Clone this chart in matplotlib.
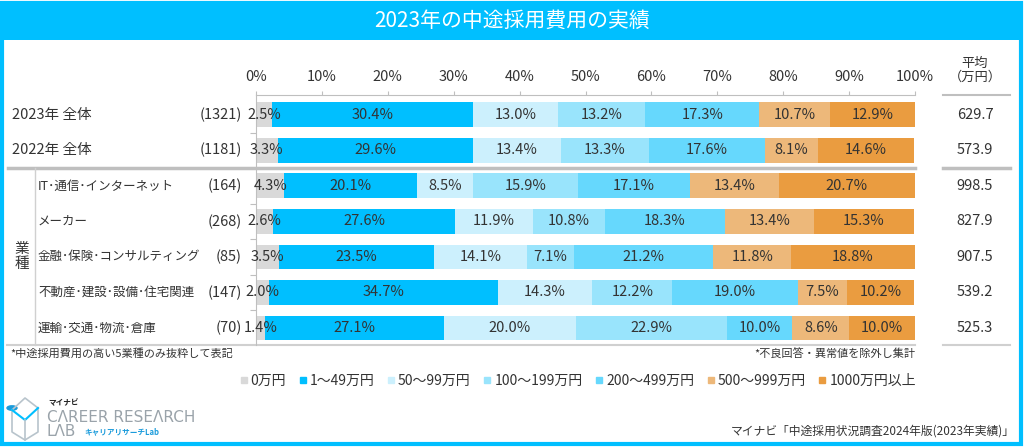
import matplotlib
matplotlib.use("Agg")
import matplotlib.pyplot as plt
from matplotlib.patches import Rectangle, Circle
from matplotlib.lines import Line2D
import matplotlib.transforms as mtransforms

plt.rcParams['font.family'] = ['Noto Sans CJK JP', 'DejaVu Sans']

# データ
rows = ['2023年 全体', '2022年 全体', 'IT･通信･インターネット', 'メーカー',
        '金融･保険･コンサルティング', '不動産･建設･設備･住宅関連', '運輸･交通･物流･倉庫']
counts = ['(1321)', '(1181)', '(164)', '(268)', '(85)', '(147)', '(70)']
categories = ['0万円', '1～49万円', '50～99万円', '100～199万円', '200～499万円', '500～999万円', '1000万円以上']
values = [
    [2.5, 30.4, 13.0, 13.2, 17.3, 10.7, 12.9],
    [3.3, 29.6, 13.4, 13.3, 17.6, 8.1, 14.6],
    [4.3, 20.1, 8.5, 15.9, 17.1, 13.4, 20.7],
    [2.6, 27.6, 11.9, 10.8, 18.3, 13.4, 15.3],
    [3.5, 23.5, 14.1, 7.1, 21.2, 11.8, 18.8],
    [2.0, 34.7, 14.3, 12.2, 19.0, 7.5, 10.2],
    [1.4, 27.1, 20.0, 22.9, 10.0, 8.6, 10.0],
]
averages = [629.7, 573.9, 998.5, 827.9, 907.5, 539.2, 525.3]
colores = ['#D9D9D9', '#00BFFF', '#CCF0FD', '#99E4FC', '#66D8FD', '#EDB87A', '#EA9C40']

TXT = '#333333'
GRIS = '#BFBFBF'
CIAN = '#00BFFF'

W, H = 1024, 447
fig = plt.figure(figsize=(W / 100, H / 100), dpi=100)

def fx(px):
    return px / W

def fy(py):
    return 1 - py / H

# marco y titulo
fig.add_artist(Rectangle((fx(1.5), fy(444)), fx(1019), 443 / H - 1.5 / H, transform=fig.transFigure,
                         fill=False, edgecolor=CIAN, linewidth=3))
fig.add_artist(Rectangle((fx(1.5), fy(40)), fx(1019), 38 / H, transform=fig.transFigure,
                         facecolor=CIAN, edgecolor='none'))
fig.text(0.5, fy(21), '2023年の中途採用費用の実績', ha='center', va='center', color='white', fontsize=15)

ax = fig.add_axes([fx(256), fy(345), fx(915 - 256), (345 - 95) / H])
n = len(rows)
ys = list(range(n))
left = [0.0] * n
for j, cat in enumerate(categories):
    vals = [v[j] for v in values]
    ax.barh(ys, vals, left=left, height=0.7, color=colores[j], edgecolor='none', label=cat)
    for i in range(n):
        ax.text(left[i] + vals[i] / 2, ys[i], f'{vals[i]:.1f}%', ha='center', va='center',
                fontsize=10.5, color=TXT)
    left = [l + v for l, v in zip(left, vals)]

ax.set_xlim(0, 100)
ax.set_ylim(n - 1 + 0.48, -0.56)
ax.xaxis.tick_top()
ax.set_xticks(range(0, 101, 10))
ax.set_xticklabels([f'{t}%' for t in range(0, 101, 10)], fontsize=10.5, color=TXT)
ax.tick_params(axis='x', length=3, color=GRIS, pad=5)
ax.set_yticks([i + 0.5 for i in range(n - 1)])
ax.set_yticklabels([])
ax.tick_params(axis='y', length=4, color=GRIS)
for s in ['right', 'bottom']:
    ax.spines[s].set_visible(False)
for s in ['top', 'left']:
    ax.spines[s].set_color(GRIS)

# etiquetas de filas
tr = mtransforms.blended_transform_factory(fig.transFigure, ax.transData)
for i in range(n):
    if i < 2:
        ax.text(fx(12), ys[i], rows[i], transform=tr, ha='left', va='center', fontsize=10.5, color=TXT)
    else:
        ax.text(fx(38), ys[i], rows[i], transform=tr, ha='left', va='center', fontsize=9, color=TXT)
    ax.text(fx(242), ys[i], counts[i], transform=tr, ha='right', va='center', fontsize=10.5, color=TXT)
    ax.text(fx(975), ys[i], f'{averages[i]:.1f}', transform=tr, ha='center', va='center',
            fontsize=10.5, color=TXT)

ax.text(fx(22), (2 + n - 1) / 2, '業\n種', transform=tr, ha='center', va='center', fontsize=10.5,
        color=TXT, linespacing=1.1)

# lineas
ax.plot([fx(8), fx(915)], [1.5, 1.5], transform=tr, color=GRIS, lw=2.5, clip_on=False)
ax.plot([fx(7), fx(915)], [n - 1 + 0.48, n - 1 + 0.48], transform=tr, color='#D0D0D0', lw=1.5, clip_on=False)
ax.plot([fx(35), fx(35)], [1.5, n - 1 + 0.48], transform=tr, color='#D0D0D0', lw=1, clip_on=False)
ax.plot([fx(943), fx(1010)], [-0.56, -0.56], transform=tr, color=GRIS, lw=1.5, clip_on=False)
ax.plot([fx(943), fx(1010)], [1.5, 1.5], transform=tr, color=GRIS, lw=2.5, clip_on=False)
ax.plot([fx(943), fx(1010)], [n - 1 + 0.48, n - 1 + 0.48], transform=tr, color='#D0D0D0', lw=1.5, clip_on=False)

fig.text(fx(975), fy(70), '平均\n（万円）', ha='center', va='center', fontsize=9.5, color=TXT, linespacing=1.1)

# notas
fig.text(fx(10), fy(354), '*中途採用費用の高い5業種のみ抜粋して表記', ha='left', va='center', fontsize=8, color=TXT)
fig.text(fx(915), fy(354), '*不良回答・異常値を除外し集計', ha='right', va='center', fontsize=8, color=TXT)
fig.text(fx(1015), fy(431), 'マイナビ「中途採用状況調査2024年版(2023年実績)」', ha='right', va='center',
         fontsize=8.5, color=TXT)

# leyenda
handles = [Line2D([], [], marker='s', linestyle='none', markersize=5, color=c) for c in colores]
fig.legend(handles, categories, loc='center', bbox_to_anchor=(fx(577), fy(381)), ncol=7, frameon=False,
           fontsize=10, handletextpad=0.1, columnspacing=0.8, handlelength=0.8, labelcolor=TXT)

# logo
lc = '#B8C4CC'
fig.add_artist(Line2D([fx(12), fx(12), fx(25), fx(38), fx(38), fx(25), fx(12)],
                      [fy(410), fy(432), fy(440), fy(432), fy(408), fy(398), fy(410)],
                      transform=fig.transFigure, color=lc, lw=1.2))
fig.add_artist(Line2D([fx(12), fx(25), fx(38)], [fy(410), fy(420), fy(408)],
                      transform=fig.transFigure, color=CIAN, lw=1.5))
fig.add_artist(Line2D([fx(25), fx(25)], [fy(420), fy(440)], transform=fig.transFigure, color=lc, lw=1.2))
fig.add_artist(Circle((fx(12), fy(408)), 5 / W, transform=fig.transFigure, color='#1A9BDB'))
fig.text(fx(48), fy(403), 'マイナビ', ha='left', va='center', fontsize=5.5, color='#222222', fontweight='bold')
fig.text(fx(47), fy(417), 'CΛREER RESEΛRCH', ha='left', va='center', fontsize=11, color='#9AA3AA',
         family=['DejaVu Sans'])
fig.text(fx(47), fy(432), 'LΛB', ha='left', va='center', fontsize=11, color='#9AA3AA', family=['DejaVu Sans'])
fig.text(fx(84), fy(432), 'キャリアリサーチLab', ha='left', va='center', fontsize=5.5, color='#1A9BDB',
         fontweight='bold')

fig.savefig('out.png', dpi=100)
